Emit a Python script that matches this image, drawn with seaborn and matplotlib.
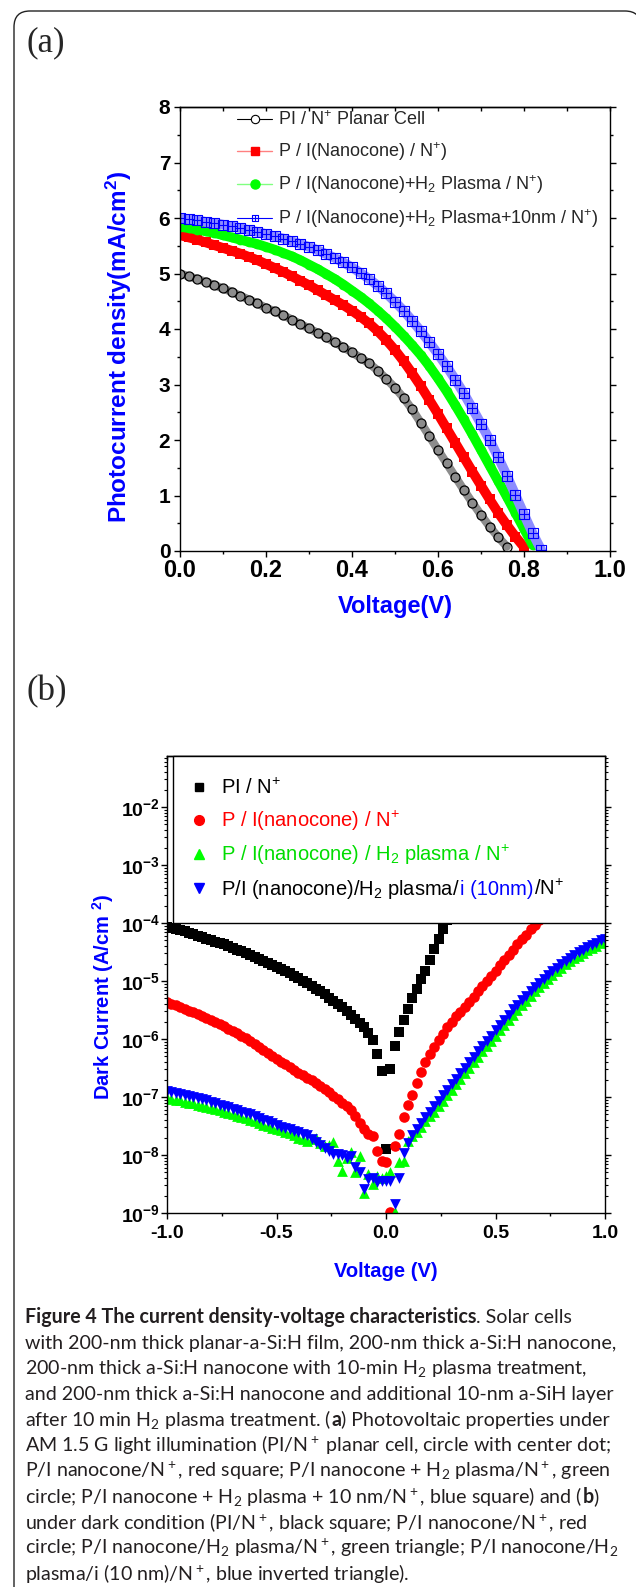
import numpy as np
import pandas as pd
import matplotlib
matplotlib.use("Agg")
import matplotlib.pyplot as plt
import seaborn as sns
from matplotlib.lines import Line2D
from matplotlib.path import Path
from matplotlib.patches import PathPatch
from matplotlib.ticker import MultipleLocator, LogLocator, NullFormatter

# --- panel (a): photocurrent density (mA/cm2) vs voltage (V) ---
V_LIGHT = [0.00, 0.02, 0.04, 0.06, 0.08, 0.10, 0.12, 0.14, 0.16, 0.18,
           0.20, 0.22, 0.24, 0.26, 0.28, 0.30, 0.32, 0.34, 0.36, 0.38,
           0.40, 0.42, 0.44, 0.46, 0.48, 0.50, 0.52, 0.54, 0.56, 0.58,
           0.60, 0.62, 0.64, 0.66, 0.68, 0.70, 0.72, 0.74, 0.76, 0.78,
           0.80, 0.82, 0.84]
J_PLANAR = [5.00, 4.95, 4.90, 4.85, 4.79, 4.73, 4.67, 4.60, 4.53, 4.46,
            4.38, 4.32, 4.25, 4.17, 4.09, 4.01, 3.93, 3.85, 3.76, 3.67,
            3.58, 3.48, 3.38, 3.25, 3.10, 2.94, 2.76, 2.55, 2.31, 2.07,
            1.82, 1.58, 1.34, 1.10, 0.87, 0.65, 0.44, 0.25, 0.08]
J_NANOCONE = [5.69, 5.65, 5.61, 5.56, 5.51, 5.46, 5.41, 5.36, 5.30, 5.24,
              5.17, 5.10, 5.03, 4.95, 4.87, 4.79, 4.70, 4.61, 4.52, 4.43,
              4.33, 4.22, 4.10, 3.96, 3.80, 3.62, 3.42, 3.20, 2.97, 2.72,
              2.47, 2.21, 1.95, 1.69, 1.43, 1.18, 0.93, 0.69, 0.47, 0.26,
              0.07]
J_H2 = [5.84, 5.82, 5.79, 5.76, 5.73, 5.69, 5.65, 5.61, 5.57, 5.53,
        5.48, 5.43, 5.37, 5.31, 5.24, 5.16, 5.08, 4.99, 4.90, 4.80,
        4.69, 4.58, 4.46, 4.33, 4.19, 4.04, 3.88, 3.71, 3.53, 3.33,
        3.11, 2.88, 2.63, 2.37, 2.10, 1.82, 1.54, 1.26, 0.98, 0.69,
        0.40, 0.11]
J_H2_10NM = [6.00, 5.98, 5.96, 5.93, 5.91, 5.88, 5.85, 5.82, 5.78, 5.75,
             5.71, 5.67, 5.63, 5.58, 5.53, 5.48, 5.42, 5.35, 5.28, 5.20,
             5.11, 5.01, 4.90, 4.78, 4.64, 4.49, 4.33, 4.15, 3.96, 3.76,
             3.55, 3.33, 3.09, 2.84, 2.57, 2.29, 2.00, 1.69, 1.36, 1.01,
             0.66, 0.32, 0.02]
LIGHT_LABELS = [r"PI / N$^{+}$ Planar Cell",
                r"P / I(Nanocone) / N$^{+}$)",
                r"P / I(Nanocone)+H$_{2}$ Plasma / N$^{+}$)",
                r"P / I(Nanocone)+H$_{2}$ Plasma+10nm / N$^{+}$)"]

# --- panel (b): dark current, log10(A/cm2) vs voltage (V) ---
V_DARK = [-1.00, -0.98, -0.96, -0.94, -0.92, -0.90, -0.88, -0.86, -0.84, -0.82,
          -0.80, -0.78, -0.76, -0.74, -0.72, -0.70, -0.68, -0.66, -0.64, -0.62,
          -0.60, -0.58, -0.56, -0.54, -0.52, -0.50, -0.48, -0.46, -0.44, -0.42,
          -0.40, -0.38, -0.36, -0.34, -0.32, -0.30, -0.28, -0.26, -0.24, -0.22,
          -0.20, -0.18, -0.16, -0.14, -0.12, -0.10, -0.08, -0.06, -0.04, -0.02,
          0.00, 0.02, 0.04, 0.06, 0.08, 0.10, 0.12, 0.14, 0.16, 0.18,
          0.20, 0.22, 0.24, 0.26, 0.28, 0.30, 0.32, 0.34, 0.36, 0.38,
          0.40, 0.42, 0.44, 0.46, 0.48, 0.50, 0.52, 0.54, 0.56, 0.58,
          0.60, 0.62, 0.64, 0.66, 0.68, 0.70, 0.72, 0.74, 0.76, 0.78,
          0.80, 0.82, 0.84, 0.86, 0.88, 0.90, 0.92, 0.94, 0.96, 0.98,
          1.00]
LOG_J_PI = [-4.06, -4.08, -4.10, -4.12, -4.14, -4.17, -4.19, -4.22, -4.24, -4.27,
            -4.29, -4.32, -4.34, -4.37, -4.40, -4.43, -4.46, -4.49, -4.52, -4.55,
            -4.58, -4.62, -4.65, -4.69, -4.72, -4.76, -4.79, -4.83, -4.87, -4.91,
            -4.95, -5.00, -5.04, -5.09, -5.13, -5.18, -5.23, -5.29, -5.34, -5.40,
            -5.45, -5.51, -5.58, -5.65, -5.72, -5.80, -5.90, -6.02, -6.25, -6.56,
            -7.90, -6.52, -6.12, -5.88, -5.68, -5.48, -5.30, -5.13, -4.97, -4.82,
            -4.64, -4.45, -4.27, -4.10, -3.94, -3.80]
LOG_J_NANOCONE = [-5.37, -5.40, -5.42, -5.45, -5.48, -5.51, -5.54, -5.57, -5.60, -5.63,
                  -5.67, -5.70, -5.74, -5.78, -5.82, -5.86, -5.90, -5.94, -5.99, -6.04,
                  -6.09, -6.14, -6.19, -6.24, -6.29, -6.34, -6.39, -6.43, -6.48, -6.53,
                  -6.58, -6.62, -6.67, -6.71, -6.76, -6.81, -6.87, -6.92, -6.98, -7.04,
                  -7.10, -7.16, -7.23, -7.32, -7.45, -7.55, -7.64, -7.68, -7.93, -8.10,
                  -8.12, -8.98, -7.85, -7.64, -7.34, -7.14, -6.96, -6.75, -6.57, -6.40,
                  -6.26, -6.14, -6.02, -5.91, -5.80, -5.70, -5.61, -5.53, -5.45, -5.36,
                  -5.28, -5.18, -5.09, -5.00, -4.91, -4.82, -4.73, -4.64, -4.55, -4.46,
                  -4.37, -4.28, -4.20, -4.11, -4.03, -3.95, -3.87]
LOG_J_H2 = [-7.02, -7.03, -7.05, -7.06, -7.08, -7.10, -7.11, -7.13, -7.15, -7.17,
            -7.19, -7.21, -7.23, -7.25, -7.27, -7.30, -7.32, -7.35, -7.37, -7.40,
            -7.42, -7.45, -7.48, -7.50, -7.53, -7.55, -7.57, -7.60, -7.62, -7.66,
            -7.70, -7.72, -7.75, -7.73, -7.70, -7.80, -7.85, -7.82, -7.78, -8.10,
            -8.28, -8.05, -7.95, -8.30, -8.02, -8.65, -8.32, -8.50, -8.36, -8.40,
            -8.36, -8.30, -8.98, -8.12, -8.10, -7.75, -7.68, -7.60, -7.52, -7.42,
            -7.33, -7.25, -7.16, -7.07, -6.97, -6.88, -6.78, -6.69, -6.59, -6.50,
            -6.40, -6.31, -6.21, -6.12, -6.03, -5.94, -5.85, -5.76, -5.67, -5.58,
            -5.50, -5.42, -5.34, -5.26, -5.18, -5.11, -5.04, -4.97, -4.90, -4.83,
            -4.77, -4.71, -4.66, -4.61, -4.56, -4.51, -4.47, -4.43, -4.39, -4.35,
            -4.31]
LOG_J_H2_10NM = [-6.90, -6.91, -6.93, -6.94, -6.96, -6.98, -7.00, -7.02, -7.04, -7.06,
                 -7.08, -7.10, -7.13, -7.15, -7.18, -7.20, -7.23, -7.25, -7.28, -7.30,
                 -7.33, -7.36, -7.39, -7.42, -7.45, -7.48, -7.51, -7.53, -7.56, -7.58,
                 -7.60, -7.63, -7.66, -7.72, -7.78, -7.83, -7.88, -7.93, -7.98, -7.99,
                 -8.00, -8.05, -8.02, -8.20, -8.30, -8.58, -8.42, -8.40, -8.47, -8.45,
                 -8.44, -8.45, -8.84, -8.40, -7.96, -7.80, -7.66, -7.55, -7.44, -7.34,
                 -7.25, -7.16, -7.07, -6.97, -6.88, -6.78, -6.69, -6.59, -6.50, -6.40,
                 -6.31, -6.21, -6.12, -6.03, -5.94, -5.85, -5.76, -5.67, -5.58, -5.49,
                 -5.41, -5.33, -5.25, -5.17, -5.10, -5.03, -4.96, -4.89, -4.83, -4.77,
                 -4.71, -4.65, -4.60, -4.55, -4.50, -4.46, -4.42, -4.38, -4.34, -4.30,
                 -4.27]
DARK_LABELS = [r"PI / N$^{+}$",
               r"P / I(nanocone) / N$^{+}$",
               r"P / I(nanocone) / H$_{2}$ plasma / N$^{+}$",
               r"P/I (nanocone)/H$_{2}$ plasma/"]

CAPTION = [
    [("Figure 4 The current density-voltage characteristics", "bold"), (". Solar cells", "normal")],
    [("with 200-nm thick planar-a-Si:H film, 200-nm thick a-Si:H nanocone,", "normal")],
    [("200-nm thick a-Si:H nanocone with 10-min H$_2$ plasma treatment,", "normal")],
    [("and 200-nm thick a-Si:H nanocone and additional 10-nm a-SiH layer", "normal")],
    [("after 10 min H$_2$ plasma treatment. (", "normal"), ("a", "bold"), (") Photovoltaic properties under", "normal")],
    [("AM 1.5 G light illumination (PI/N$^+$ planar cell, circle with center dot;", "normal")],
    [("P/I nanocone/N$^+$, red square; P/I nanocone + H$_2$ plasma/N$^+$, green", "normal")],
    [("circle; P/I nanocone + H$_2$ plasma + 10 nm/N$^+$, blue square) and (", "normal"), ("b", "bold"), (")", "normal")],
    [("under dark condition (PI/N$^+$, black square; P/I nanocone/N$^+$, red", "normal")],
    [("circle; P/I nanocone/H$_2$ plasma/N$^+$, green triangle; P/I nanocone/H$_2$", "normal")],
    [("plasma/i (10 nm)/N$^+$, blue inverted triangle).", "normal")],
]

W, H = 636, 1587
BLUE = "#0000ff"
BOXPLUS = Path([(-1, -1), (1, -1), (1, 1), (-1, 1), (-1, -1), (0, -1), (0, 1), (-1, 0), (1, 0)],
               [Path.MOVETO, Path.LINETO, Path.LINETO, Path.LINETO, Path.CLOSEPOLY,
                Path.MOVETO, Path.LINETO, Path.MOVETO, Path.LINETO])


def setup_style():
    sns.set_style("ticks")
    plt.rcParams["font.family"] = ["Liberation Sans", "DejaVu Sans"]
    plt.rcParams["mathtext.fontset"] = "custom"
    plt.rcParams["mathtext.rm"] = "Liberation Sans"
    plt.rcParams["mathtext.it"] = "Liberation Sans:italic"
    plt.rcParams["mathtext.bf"] = "Liberation Sans:bold"
    plt.rcParams["mathtext.default"] = "regular"
    plt.rcParams["axes.unicode_minus"] = False
    plt.rcParams["axes.edgecolor"] = "black"
    plt.rcParams["axes.linewidth"] = 1.0
    plt.rcParams["xtick.color"] = "black"
    plt.rcParams["ytick.color"] = "black"


def px_axes(left, top, right, bottom):
    return [left / W, 1 - bottom / H, (right - left) / W, (bottom - top) / H]


def chain_text(fig, renderer, x_px, y_px, parts, **kw):
    """Write pieces of text one after the other on one baseline (pixel coords from top-left)."""
    x = x_px
    for s, weight in parts:
        t = fig.text(x / W, 1 - y_px / H, s, ha="left", va="baseline", fontweight=weight, **kw)
        x += t.get_window_extent(renderer).width
    return x


def draw_frame(fig):
    """Rounded outline around the page; bottom and right sides fall outside the image."""
    bg = fig.add_axes([0, 0, 1, 1], zorder=-10)
    bg.set_xlim(0, W)
    bg.set_ylim(H, 0)
    bg.axis("off")
    r, x0, y0, x1 = 16, 14, 11, 641
    verts = [(x0, H + 20), (x0, y0 + r), (x0, y0), (x0 + r, y0), (x1 - r, y0), (x1, y0), (x1, y0 + r)]
    codes = [Path.MOVETO, Path.LINETO, Path.CURVE3, Path.CURVE3, Path.LINETO, Path.CURVE3, Path.CURVE3]
    bg.add_patch(PathPatch(Path(verts, codes), fill=False, ec="#222222", lw=1.0, clip_on=False))


def draw_light(ax):
    light = pd.concat([pd.DataFrame({"V": V_LIGHT[:len(J)], "J": J, "cell": k})
                       for k, J in [("planar", J_PLANAR), ("nanocone", J_NANOCONE),
                                    ("h2", J_H2), ("h2_10nm", J_H2_10NM)]], ignore_index=True)
    styles = {
        "planar": dict(band="#8c8c8c", bw=6.0, marker="o", ms=6.5, mfc="none", mec="black", mew=0.9),
        "nanocone": dict(band="#ff0000", bw=7.0, marker="s", ms=6.5, mfc="#ff0000", mec="#ff0000", mew=0),
        "h2": dict(band="#00ff00", bw=7.0, marker="o", ms=7.0, mfc="#00ff00", mec="#00ff00", mew=0),
        "h2_10nm": dict(band="#8c8cff", bw=7.0, marker=BOXPLUS, ms=6.5, mfc="none", mec="#0000ff", mew=0.8),
    }
    for key, st in styles.items():
        sub = light[light["cell"] == key]
        sns.lineplot(data=sub, x="V", y="J", ax=ax, color=st["band"], linewidth=st["bw"],
                     sort=False, estimator=None, legend=False)
        sns.lineplot(data=sub, x="V", y="J", ax=ax, color=st["mec"], linewidth=0,
                     marker=st["marker"], markersize=st["ms"], markerfacecolor=st["mfc"],
                     markeredgecolor=st["mec"], markeredgewidth=st["mew"],
                     sort=False, estimator=None, legend=False)

    ax.set_xlim(0, 1)
    ax.set_ylim(0, 8)
    ax.set_xticks(np.arange(0, 1.01, 0.2))
    ax.set_xticklabels([f"{v:.1f}" for v in np.arange(0, 1.01, 0.2)], fontweight="bold", fontsize=17)
    ax.set_yticks(range(0, 9))
    ax.set_yticklabels([str(v) for v in range(0, 9)], fontweight="bold", fontsize=15)
    ax.xaxis.set_minor_locator(MultipleLocator(0.1))
    ax.yaxis.set_minor_locator(MultipleLocator(0.5))
    ax.tick_params(axis="x", which="major", direction="out", length=4, width=1, pad=2)
    ax.tick_params(axis="x", which="minor", direction="out", length=2.5, width=1)
    ax.tick_params(axis="y", which="major", direction="out", length=4, width=1, pad=3, right=True)
    ax.tick_params(axis="y", which="minor", direction="out", length=2.5, width=1, right=True)
    top = ax.secondary_xaxis("top")
    top.set_xticks(np.arange(0, 1.01, 0.2))
    top.xaxis.set_minor_locator(MultipleLocator(0.1))
    top.tick_params(axis="x", which="both", direction="in", labeltop=False, length=3, width=1)

    ax.set_xlabel("Voltage(V)", color=BLUE, fontweight="bold", fontsize=17)
    ax.set_ylabel(r"Photocurrent density(mA/cm$^{2}$)", color=BLUE, fontweight="bold", fontsize=17.5)
    ax.xaxis.set_label_coords(0.5, -0.098)
    ax.yaxis.set_label_coords(-0.108, 0.46)

    handles = [
        Line2D([], [], color="black", lw=0.8, marker="o", ms=6, mfc="white", mec="black", mew=0.8),
        Line2D([], [], color="#ff8080", lw=1.0, marker="s", ms=6, mfc="#ff0000", mec="#ff0000"),
        Line2D([], [], color="#80ff80", lw=1.0, marker="o", ms=6.5, mfc="#00ff00", mec="#00ff00"),
        Line2D([], [], color="#0000ff", lw=0.8, marker=BOXPLUS, ms=4.5, mfc="none", mec="#0000ff", mew=0.8),
    ]
    ax.legend(handles, LIGHT_LABELS, loc="upper left", bbox_to_anchor=(0.125, 1.0),
              frameon=False, fontsize=13, borderaxespad=0, borderpad=0.2,
              handlelength=1.9, handletextpad=0.35, labelspacing=0.6)


def draw_dark(ax):
    dark = pd.concat([pd.DataFrame({"V": V_DARK[:len(L)], "J": 10.0 ** np.array(L), "cell": k})
                      for k, L in [("pi", LOG_J_PI), ("nanocone", LOG_J_NANOCONE),
                                   ("h2", LOG_J_H2), ("h2_10nm", LOG_J_H2_10NM)]], ignore_index=True)
    styles = {
        "pi": dict(marker="s", s=46, color="black"),
        "nanocone": dict(marker="o", s=58, color="#ff0000"),
        "h2": dict(marker="^", s=60, color="#00ff00"),
        "h2_10nm": dict(marker="v", s=60, color="#0000ff"),
    }
    for key, st in styles.items():
        sub = dark[dark["cell"] == key]
        sns.scatterplot(data=sub, x="V", y="J", ax=ax, marker=st["marker"], s=st["s"],
                        color=st["color"], linewidth=0, legend=False)

    ax.set_yscale("log")
    ax.set_xlim(-1, 1)
    ax.set_ylim(1e-9, 10 ** -1.12)
    exps = list(range(-9, -1))
    ax.set_yticks([10.0 ** e for e in exps])
    ax.set_yticklabels([r"$\mathdefault{10^{%d}}$" % e for e in exps], fontweight="bold", fontsize=14)
    ax.yaxis.set_minor_locator(LogLocator(base=10, subs=np.arange(2, 10), numticks=20))
    ax.yaxis.set_minor_formatter(NullFormatter())
    xt = [-1.0, -0.5, 0.0, 0.5, 1.0]
    ax.set_xticks(xt)
    ax.set_xticklabels([f"{v:.1f}" for v in xt], fontweight="bold", fontsize=14)
    ax.xaxis.set_minor_locator(MultipleLocator(0.25))
    ax.tick_params(axis="x", which="major", direction="out", length=4, width=1, pad=5)
    ax.tick_params(axis="x", which="minor", direction="out", length=2.5, width=1)
    ax.tick_params(axis="y", which="major", direction="out", length=4, width=1, pad=1, right=True)
    ax.tick_params(axis="y", which="minor", direction="out", length=2, width=0.8, right=True)
    top = ax.secondary_xaxis("top")
    top.set_xticks(xt)
    top.xaxis.set_minor_locator(MultipleLocator(0.25))
    top.tick_params(axis="x", which="both", direction="in", labeltop=False, length=3, width=1)

    ax.set_xlabel("Voltage (V)", color=BLUE, fontweight="bold", fontsize=14.5)
    ax.set_ylabel(r"Dark Current (A/cm $^{2}$)", color=BLUE, fontweight="bold", fontsize=14.5)
    ax.xaxis.set_label_coords(0.5, -0.107)
    ax.yaxis.set_label_coords(-0.116, 0.473)

    handles = [
        Line2D([], [], ls="none", marker="s", ms=6.3, color="black"),
        Line2D([], [], ls="none", marker="o", ms=7.0, color="#ff0000"),
        Line2D([], [], ls="none", marker="^", ms=7.5, color="#00ff00"),
        Line2D([], [], ls="none", marker="v", ms=7.5, color="#0000ff"),
    ]
    leg = ax.legend(handles, DARK_LABELS, loc="upper left", bbox_to_anchor=(0.0137, 0.0, 0.9863, 1.0),
                    mode="expand", borderaxespad=0, fontsize=14.5, fancybox=False, framealpha=1,
                    edgecolor="black", borderpad=1.1, handlelength=0.4, handletextpad=0.9,
                    labelspacing=0.52)
    leg.get_frame().set_linewidth(1.0)
    for t, c in zip(leg.get_texts(), ["black", "#ff0000", "#00dd00", "black"]):
        t.set_color(c)
    return leg


def main():
    setup_style()
    fig = plt.figure(figsize=(W / 100, H / 100), dpi=100)
    draw_frame(fig)

    ax_a = fig.add_axes(px_axes(180, 107, 610, 551))
    ax_b = fig.add_axes(px_axes(167, 756, 605, 1213))
    draw_light(ax_a)
    leg_b = draw_dark(ax_b)

    fig.text(26 / W, 1 - 43 / H, "(a)", family="Liberation Serif", fontsize=25, va="center", ha="left")
    fig.text(26 / W, 1 - 692 / H, "(b)", family="Liberation Serif", fontsize=25, va="center", ha="left")

    fig.canvas.draw()
    renderer = fig.canvas.get_renderer()

    # last legend row of (b): part of the label is blue
    t4 = leg_b.get_texts()[3]
    xb, yb = t4.get_transform().transform(t4.get_position())
    x1 = t4.get_window_extent(renderer).x1
    for s, c in [("i (10nm)", "#0000ff"), (r"/N$^{+}$", "black")]:
        t = fig.text(x1 / W, yb / H, s, ha="left", va="baseline", fontsize=14.5, color=c)
        x1 = t.get_window_extent(renderer).x1

    # caption, font size fitted so the fourth line spans the text block width
    cap_family = ["Lato", "DejaVu Sans"]
    probe = fig.text(0, 0, CAPTION[3][0][0], fontsize=12, family=cap_family)
    cap_size = 12 * 586 / probe.get_window_extent(renderer).width
    probe.remove()
    for i, parts in enumerate(CAPTION):
        chain_text(fig, renderer, 25, 1323 + i * 25.7, parts, family=cap_family,
                   fontsize=cap_size, color="#231f20")

    fig.savefig("out.png", dpi=100)
    plt.close(fig)


if __name__ == "__main__":
    main()
